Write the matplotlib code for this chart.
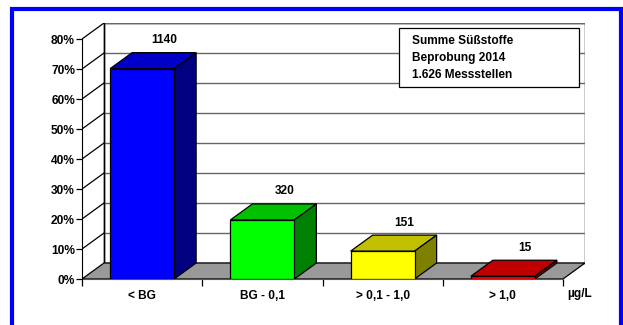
import matplotlib.pyplot as plt
from matplotlib.patches import Polygon, Rectangle

plt.rcParams['font.family'] = ['Liberation Sans', 'DejaVu Sans']
plt.rcParams['font.weight'] = 'bold'

# data
categories = ["< BG", "BG - 0,1", "> 0,1 - 1,0", "> 1,0"]
counts = [1140, 320, 151, 15]
total = 1626
front_colors = ["#0000FF", "#00FF00", "#FFFF00", "#FF0000"]
top_colors = ["#0000C8", "#00C000", "#C0C000", "#C00000"]
side_colors = ["#000080", "#008000", "#808000", "#800000"]
box_text = "Summe Süßstoffe\nBeprobung 2014\n1.626 Messstellen"

pct = [c / total * 100 for c in counts]

# 3d depth offset in data units
dx = 22 / 120.25
dy = 16 / 3.0
bw = 64 / 120.25
fs = 8.6

fig = plt.figure(figsize=(6.23, 3.25), dpi=100)
W, H = 623, 325
ax = fig.add_axes([82 / W, (H - 279) / H, (585 - 82) / W, (279 - 23) / H])
ax.set_xlim(0, 4 + dx)
ax.set_ylim(0, 80 + dy)
ax.patch.set_alpha(0)

# back wall + floor
ax.add_patch(Rectangle((dx, dy), 4, 80, facecolor="white", edgecolor="black", lw=1, zorder=1))
for v in range(10, 81, 10):
    ax.plot([dx, 4 + dx], [v + dy, v + dy], color="#666666", lw=1, zorder=2)
    ax.plot([0, dx], [v, v + dy], color="black", lw=0.9, zorder=2)
ax.add_patch(Polygon([(0, 0), (4, 0), (4 + dx, dy), (dx, dy)], closed=True,
                     facecolor="#999999", edgecolor="black", lw=0.9, zorder=3))
ax.plot([dx, dx], [dy, 80 + dy], color="black", lw=1, zorder=2)

# bars
for i, v in enumerate(pct):
    x0 = i + 0.5 - bw / 2
    x1 = x0 + bw
    ax.add_patch(Rectangle((x0, 0), bw, v, facecolor=front_colors[i], edgecolor="black", lw=0.9, zorder=5))
    ax.add_patch(Polygon([(x0, v), (x1, v), (x1 + dx, v + dy), (x0 + dx, v + dy)], closed=True,
                         facecolor=top_colors[i], edgecolor="black", lw=0.9, zorder=4))
    ax.add_patch(Polygon([(x1, 0), (x1 + dx, dy), (x1 + dx, v + dy), (x1, v)], closed=True,
                         facecolor=side_colors[i], edgecolor="black", lw=0.9, zorder=4))
    ax.annotate(str(counts[i]), (i + 0.5 + dx, v + dy), xytext=(0, 9), textcoords="offset points",
                ha="center", va="center", fontsize=fs, fontweight="bold", zorder=6)

# axes
for s in ["top", "right"]:
    ax.spines[s].set_visible(False)
ax.spines["left"].set_bounds(0, 80)
ax.spines["bottom"].set_bounds(0, 4)
ax.spines["bottom"].set_color("#555555")
ax.spines["left"].set_zorder(6)
ax.set_yticks(range(0, 81, 10))
ax.set_yticklabels([f"{v}%" for v in range(0, 81, 10)])
ax.tick_params(axis="y", length=4, width=0.9, pad=1, labelsize=fs)
ax.set_xticks(range(5))
ax.set_xticklabels([])
ax.set_xticks([i + 0.5 for i in range(4)], minor=True)
ax.set_xticklabels(categories, minor=True)
ax.tick_params(axis="x", which="major", length=5, width=0.9)
ax.tick_params(axis="x", which="minor", length=0, pad=8, labelsize=fs)
ax.text(4.14, -5.1, "µg/L", ha="center", va="center", fontsize=fs, fontweight="bold")

# info box
fig.text(412 / W, 1 - 58 / H, box_text, ha="left", va="center", fontsize=fs, fontweight="bold",
         linespacing=1.5, zorder=10)
fig.patches.append(Rectangle((399 / W, 1 - 87 / H), 180 / W, 59 / H, transform=fig.transFigure,
                             facecolor="white", edgecolor="black", lw=0.9, zorder=9))

# blue frame
fig.patches.append(Rectangle((12 / W, -0.1), 609 / W, 1.1 - 9 / H, transform=fig.transFigure,
                             facecolor="none", edgecolor="#0000FF", lw=3, zorder=10))

fig.savefig("out.png", dpi=100)
